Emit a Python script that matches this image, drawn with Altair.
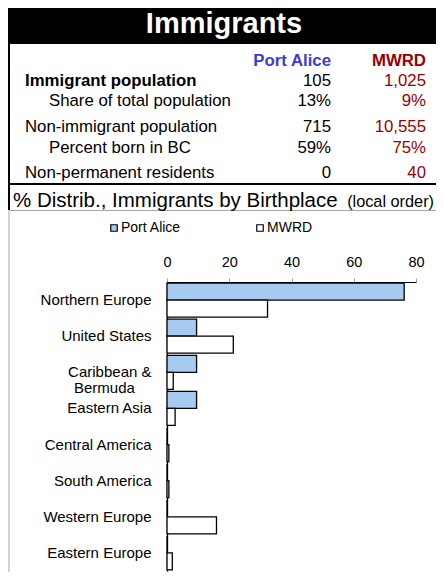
import altair as alt
import pandas as pd

# ---------------- data ----------------
regions = ["Northern Europe", "United States", "Caribbean & Bermuda", "Eastern Asia",
           "Central America", "South America", "Western Europe", "Eastern Europe"]
port_alice = [76.2, 9.5, 9.5, 9.5, 0.0, 0.0, 0.0, 0.0]
mwrd = [32.3, 21.3, 2.0, 2.6, 0.6, 0.6, 15.9, 1.7]
series = ["Port Alice", "MWRD"]
x_ticks = [0, 20, 40, 60, 80]

table_rows = ["Immigrant population", "Share of total population",
              "Non-immigrant population", "Percent born in BC",
              "Non-permanent residents"]
pa_values = ["105", "13%", "715", "59%", "0"]
mwrd_values = ["1,025", "9%", "10,555", "75%", "40"]

title_text = "Immigrants"
subtitle_main = "% Distrib., Immigrants by Birthplace"
subtitle_note = "(local order)"

# ---------------- layout / style ----------------
FONT = "Liberation Sans"
X0, Y0 = 167, 282          # page position of the plot origin
def rx(px):
    return px - X0
def ry(py):
    return py - Y0

row_baselines = [86, 106, 131.5, 152.5, 178]
row_indent = [False, True, False, True, False]
row_bold = [True, False, False, False, False]
BLUE = "#3b3bd6"
RED = "#990000"
BAR_BLUE = "#a6caf0"
RIGHT = 436

one = pd.DataFrame({"k": [0]})

def rect(x1, x2, y1, y2, color):
    return alt.Chart(one).mark_rect(color=color).encode(
        x=alt.value(rx(x1)), x2=alt.value(rx(x2)),
        y=alt.value(ry(y1)), y2=alt.value(ry(y2)))

def label(text, x, y, size, align="left", weight="normal", color="black"):
    return alt.Chart(one).mark_text(
        text=text, font=FONT, fontSize=size, fontWeight=weight, color=color,
        align=align, baseline="alphabetic").encode(
        x=alt.value(rx(x)), y=alt.value(ry(y)))

layers = [
    rect(8, RIGHT, 8, 44, "black"),
    rect(8, 10, 44, 210, "black"),
    rect(8, RIGHT, 183, 185, "black"),
    rect(10, RIGHT, 210, 211, "#a6a6a6"),
    rect(8.5, 9.5, 210, 572, "#a6a6a6"),
    label(title_text, 224, 33.3, 29, align="center", weight="bold", color="white"),
    label(series[0], 331, 66, 16.8, align="right", weight="bold", color=BLUE),
    label(series[1], 426, 66, 16.8, align="right", weight="bold", color=RED),
    label(subtitle_main, 13, 206.5, 20.5),
    label(subtitle_note, 434, 206.5, 16.3, align="right"),
]

table_df = pd.DataFrame({"row": table_rows, "pa": pa_values, "mwrd": mwrd_values})
for i, r in enumerate(table_rows):
    base = alt.Chart(table_df).transform_filter(alt.datum.row == r)
    yb = ry(row_baselines[i])
    layers.append(base.mark_text(font=FONT, fontSize=16.8, align="left", baseline="alphabetic",
                                 fontWeight="bold" if row_bold[i] else "normal", color="black")
                  .encode(x=alt.value(rx(49 if row_indent[i] else 25)), y=alt.value(yb), text="row:N"))
    layers.append(base.mark_text(font=FONT, fontSize=16.8, align="right", baseline="alphabetic",
                                 color="black")
                  .encode(x=alt.value(rx(331)), y=alt.value(yb), text="pa:N"))
    layers.append(base.mark_text(font=FONT, fontSize=16.8, align="right", baseline="alphabetic",
                                 color=RED)
                  .encode(x=alt.value(rx(426)), y=alt.value(yb), text="mwrd:N"))

bars_df = pd.DataFrame({
    "region": regions + regions,
    "series": [series[0]] * len(regions) + [series[1]] * len(regions),
    "value": port_alice + mwrd,
})

nb = "\u00a0"
zw = "\u200b"
label_expr = ("datum.value == 'Caribbean & Bermuda' ? ['Caribbean &', 'Bermuda"
              + nb * 4 + zw + "'] : datum.label")

bars = alt.Chart(bars_df).mark_bar(stroke="black", strokeWidth=1.3).encode(
    x=alt.X("value:Q", scale=alt.Scale(domain=[0, 80], nice=False),
            axis=alt.Axis(orient="top", values=x_ticks, grid=False, domainColor="black",
                          domainWidth=1, tickColor="#a0a0a0", tickSize=4,
                          labelFont=FONT, labelFontSize=14.5, labelColor="black",
                          labelPadding=9, labelFlush=False, title=None)),
    y=alt.Y("region:N", sort=regions,
            scale=alt.Scale(paddingInner=0.06, paddingOuter=0.03),
            axis=alt.Axis(orient="left", grid=False, ticks=False, tickSize=0,
                          domainColor="black", domainWidth=1.3,
                          labelFont=FONT, labelFontSize=15, labelColor="black",
                          labelPadding=16, labelLimit=300, labelLineHeight=15.7,
                          labelExpr=label_expr, title=None)),
    yOffset=alt.YOffset("series:N", sort=series),
    color=alt.Color("series:N", sort=series,
                    scale=alt.Scale(domain=series, range=[BAR_BLUE, "#ffffff"]),
                    legend=alt.Legend(orient="none", legendX=rx(107), legendY=-61,
                                      direction="horizontal", title=None,
                                      symbolType="square", symbolSize=42,
                                      symbolStrokeColor="black", symbolStrokeWidth=1.2,
                                      labelFont=FONT, labelFontSize=14, labelOffset=0,
                                      columnPadding=72, padding=0)),
)
layers.append(bars)

chart = alt.layer(*layers).properties(
    width=249, height=289,
    padding={"left": 159, "top": 274, "right": RIGHT - 8 - 159 - 249, "bottom": 1},
    autosize=alt.AutoSizeParams(type="none"),
).configure_view(stroke=None)

chart.save("out.html", embed_options={"renderer": "svg", "actions": False})
